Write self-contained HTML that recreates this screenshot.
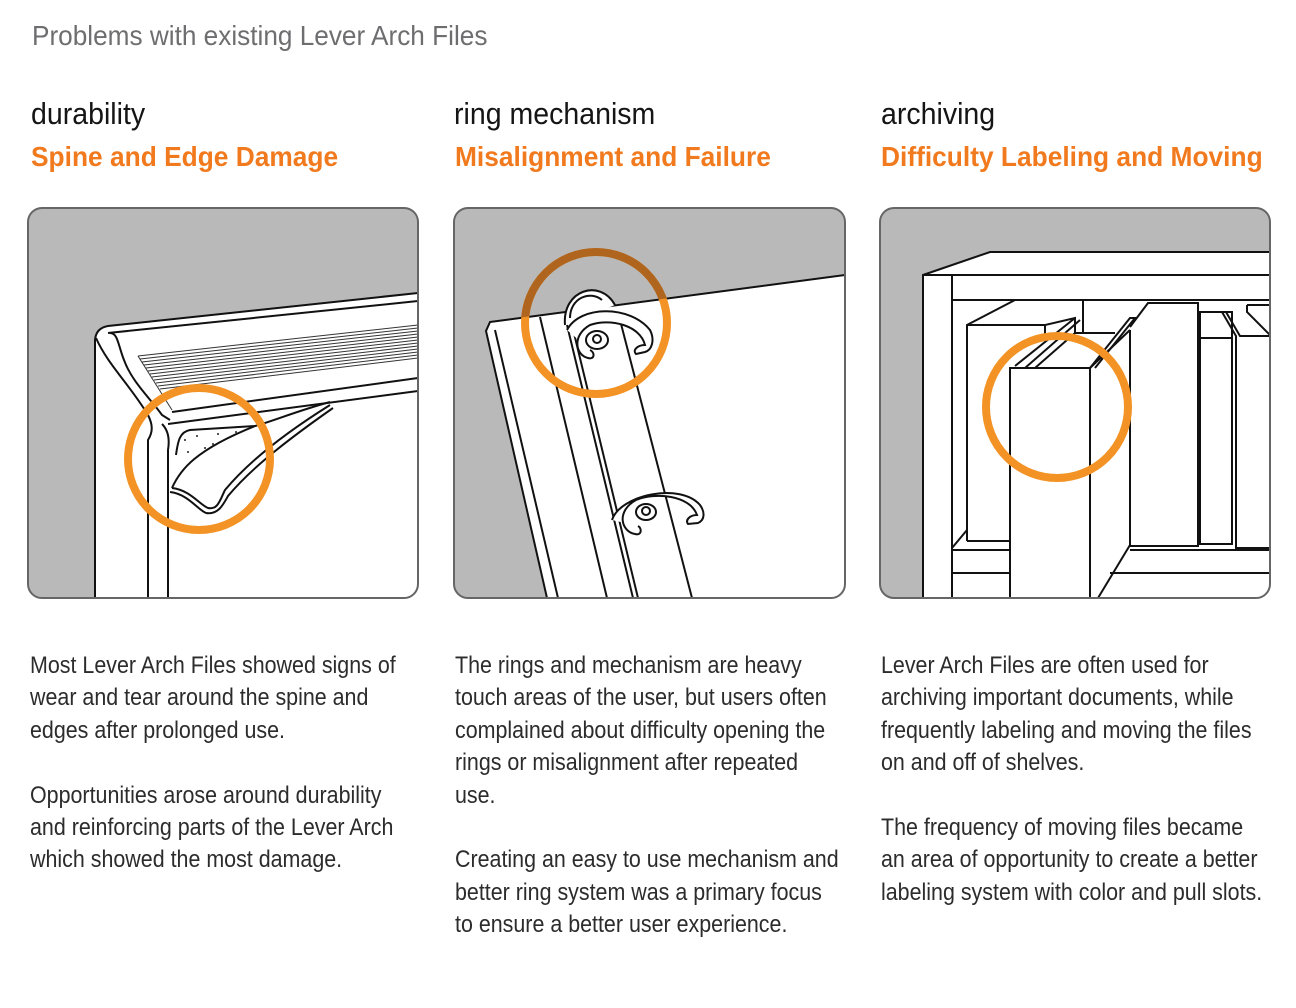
<!DOCTYPE html>
<html><head><meta charset="utf-8"><style>
html,body{margin:0;padding:0;background:#fff}
body{width:1296px;height:1008px;position:relative;overflow:hidden;font-family:"Liberation Sans",sans-serif}
.t{position:absolute;white-space:nowrap;transform-origin:0 0}
.title{font-size:28px;color:#6e6e70;line-height:28px}
.h{font-size:31px;color:#151515;line-height:31px}
.o{font-size:28px;color:#f27a1e;font-weight:bold;line-height:28px}
.b{font-size:24px;color:#2c2c2c;line-height:32.4px}
svg{position:absolute;left:0;top:0}
</style></head><body>
<div class="t title" style="left:32px;top:22px;transform:scaleX(0.935)">Problems with existing Lever Arch Files</div>

<div class="t h" style="left:31px;top:98px;transform:scaleX(0.92)">durability</div>
<div class="t h" style="left:454px;top:98px;transform:scaleX(0.92)">ring mechanism</div>
<div class="t h" style="left:881px;top:98px;transform:scaleX(0.92)">archiving</div>

<div class="t o" style="left:31px;top:143px;transform:scaleX(0.94)">Spine and Edge Damage</div>
<div class="t o" style="left:455px;top:143px;transform:scaleX(0.94)">Misalignment and Failure</div>
<div class="t o" style="left:881px;top:143px;transform:scaleX(0.94)">Difficulty Labeling and Moving</div>

<div class="t b" style="left:30px;top:650px;transform:scaleX(0.893)">Most Lever Arch Files showed signs of<br>wear and tear around the spine and<br>edges after prolonged use.<br><br>Opportunities arose around durability<br>and reinforcing parts of the Lever Arch<br>which showed the most damage.</div>
<div class="t b" style="left:455px;top:650px;transform:scaleX(0.893)">The rings and mechanism are heavy<br>touch areas of the user, but users often<br>complained about difficulty opening the<br>rings or misalignment after repeated<br>use.<br><br>Creating an easy to use mechanism and<br>better ring system was a primary focus<br>to ensure a better user experience.</div>
<div class="t b" style="left:881px;top:650px;transform:scaleX(0.893)">Lever Arch Files are often used for<br>archiving important documents, while<br>frequently labeling and moving the files<br>on and off of shelves.<br><br>The frequency of moving files became<br>an area of opportunity to create a better<br>labeling system with color and pull slots.</div>

<svg width="1296" height="1008" viewBox="0 0 1296 1008">
<defs>
<clipPath id="c1"><rect x="28" y="208" width="390" height="390" rx="14"/></clipPath>
<clipPath id="c2"><rect x="454" y="208" width="391" height="390" rx="14"/></clipPath>
<clipPath id="c3"><rect x="880" y="208" width="390" height="390" rx="14"/></clipPath>
<clipPath id="g2"><polygon points="453,208 845,208 845,275 486,322 453,322"/></clipPath>
</defs>

<!-- Panel 1 -->
<g clip-path="url(#c1)" stroke="#111" stroke-width="2" fill="none">
<rect x="28" y="208" width="390" height="390" fill="#b9b9b9" stroke="none"/>
<path d="M95,598 L95,340 Q96,328 108,326 L418,293 L418,598 Z" fill="#fff" stroke="#111"/>
<line x1="108" y1="333" x2="418" y2="301"/>
<g stroke="#333" stroke-width="1">
<line x1="138" y1="356" x2="418" y2="325"/><line x1="140" y1="359" x2="418" y2="328"/><line x1="142" y1="362" x2="418" y2="331"/><line x1="144" y1="365" x2="418" y2="334"/><line x1="146" y1="368" x2="418" y2="337"/><line x1="148" y1="371" x2="418" y2="340"/><line x1="150" y1="374" x2="418" y2="343"/><line x1="152" y1="377" x2="418" y2="346"/><line x1="154" y1="380" x2="418" y2="349"/><line x1="156" y1="383" x2="418" y2="352"/><line x1="158" y1="386" x2="418" y2="355"/><line x1="160" y1="389" x2="418" y2="358"/>
<line x1="138" y1="356" x2="172" y2="410"/>
</g>
<line x1="172" y1="412" x2="418" y2="378"/>
<line x1="168" y1="424" x2="418" y2="391"/>
<path d="M110,333 C118,333 118,345 124,360 C132,382 150,398 162,415 L170,420"/>
<path d="M96,338 C108,365 130,385 148,415 C153,425 153,432 148,440 L148,598"/>
<path d="M162,424 C168,430 170,438 168,450 L168,598"/>
<path d="M176,455 C178,440 180,432 190,430 L255,426 C270,422 300,410 330,402"/>
<path d="M172,488 C190,490 200,505 208,508 C218,510 220,500 225,490 C250,460 290,430 330,405"/>
<path d="M170,492 C188,494 198,510 206,513 C218,515 223,505 228,496 C253,466 293,436 333,408"/>
<path d="M172,488 C180,470 195,450 255,426"/>
<g fill="#222" stroke="none"><circle cx="185" cy="440" r="1"/><circle cx="197" cy="436" r="1"/><circle cx="218" cy="434" r="1"/><circle cx="236" cy="432" r="1"/><circle cx="205" cy="448" r="1"/><circle cx="188" cy="452" r="1"/><circle cx="213" cy="444" r="1"/></g>
<circle cx="199" cy="459" r="71" stroke="#f39325" stroke-width="8"/>
</g>
<rect x="28" y="208" width="390" height="390" rx="14" fill="none" stroke="#666" stroke-width="2"/>

<!-- Panel 2 -->
<g clip-path="url(#c2)" stroke="#111" stroke-width="2" fill="none">
<rect x="453" y="208" width="392" height="390" fill="#b9b9b9" stroke="none"/>
<polygon points="490,322 845,275 845,598 547,598 486,331" fill="#fff"/>
<line x1="495" y1="330" x2="558" y2="598"/>
<line x1="540" y1="317" x2="607" y2="598"/>
<line x1="567" y1="325" x2="633" y2="598"/>
<line x1="572" y1="325" x2="638" y2="598"/>
<line x1="620" y1="320" x2="692" y2="598"/>
<path d="M565,325 C562,290 600,278 615,305" fill="#fff"/>
<path d="M570,318 C570,298 590,290 602,300"/>
<path d="M567,330 C580,305 630,305 650,330 C655,340 652,350 645,352 L636,354 C632,350 638,345 645,345 C640,325 610,318 590,325 C572,335 575,355 588,358 C595,360 595,352 590,350" fill="#fff"/>
<ellipse cx="597" cy="340" rx="11" ry="9" fill="#fff"/>
<circle cx="597" cy="339" r="4"/>
<path d="M612,520 C620,495 680,482 700,505 C705,512 705,520 698,523 L688,524 C685,520 690,515 697,515 C690,495 655,492 636,500 C615,512 622,532 635,534 C642,536 642,528 638,526" fill="#fff"/>
<ellipse cx="646" cy="512" rx="10" ry="8" fill="#fff"/>
<circle cx="646" cy="511" r="4"/>
<circle cx="596" cy="323" r="71" stroke="#f39325" stroke-width="8"/>
<circle cx="596" cy="323" r="71" stroke="#b0651f" stroke-width="8" clip-path="url(#g2)"/>
</g>
<rect x="454" y="208" width="391" height="390" rx="14" fill="none" stroke="#666" stroke-width="2"/>

<!-- Panel 3 -->
<g clip-path="url(#c3)" stroke="#111" stroke-width="2" fill="none">
<rect x="880" y="208" width="390" height="390" fill="#b9b9b9" stroke="none"/>
<polygon points="923,275 990,252 1270,252 1270,598 923,598" fill="#fff"/>
<line x1="923" y1="275" x2="1270" y2="275"/>
<line x1="923" y1="275" x2="923" y2="598"/>
<line x1="952" y1="275" x2="952" y2="598"/>
<line x1="952" y1="300" x2="1270" y2="300"/>
<line x1="1083" y1="300" x2="1083" y2="333"/>
<path d="M967,541 L967,325 L1015,300"/>
<line x1="967" y1="325" x2="1045" y2="325"/>
<line x1="967" y1="541" x2="1010" y2="541"/>
<path d="M1045,335 L1045,325 L1075,318 L1075,333"/>
<path d="M1015,366 L1075,318 M1025,368 L1080,320"/>
<path d="M1035,368 L1075,333 L1115,333"/>
<path d="M1090,368 L1130,318 L1135,318 L1095,368"/>
<rect x="1010" y="368" width="80" height="240" fill="#fff"/>
<line x1="1090" y1="368" x2="1130" y2="330"/>
<line x1="1130" y1="330" x2="1130" y2="545"/>
<path d="M1130,327 L1148,303 L1198,303 L1198,546 L1130,546"/>
<rect x="1200" y="312" width="32" height="232"/>
<line x1="1200" y1="338" x2="1232" y2="338"/>
<path d="M1222,312 L1236,336 L1236,548 L1270,548"/>
<path d="M1226,312 L1240,336 L1270,336"/>
<path d="M1247,305 L1247,312 L1270,335 M1247,305 L1270,305"/>
<line x1="952" y1="550" x2="1010" y2="550"/>
<line x1="952" y1="573" x2="1010" y2="573"/>
<line x1="952" y1="548" x2="967" y2="530"/>
<line x1="1130" y1="550" x2="1270" y2="550"/>
<line x1="1110" y1="573" x2="1270" y2="573"/>
<line x1="1098" y1="598" x2="1130" y2="545"/>
<circle cx="1057" cy="407" r="71" stroke="#f39325" stroke-width="8"/>
</g>
<rect x="880" y="208" width="390" height="390" rx="14" fill="none" stroke="#666" stroke-width="2"/>
</svg>
</body></html>
